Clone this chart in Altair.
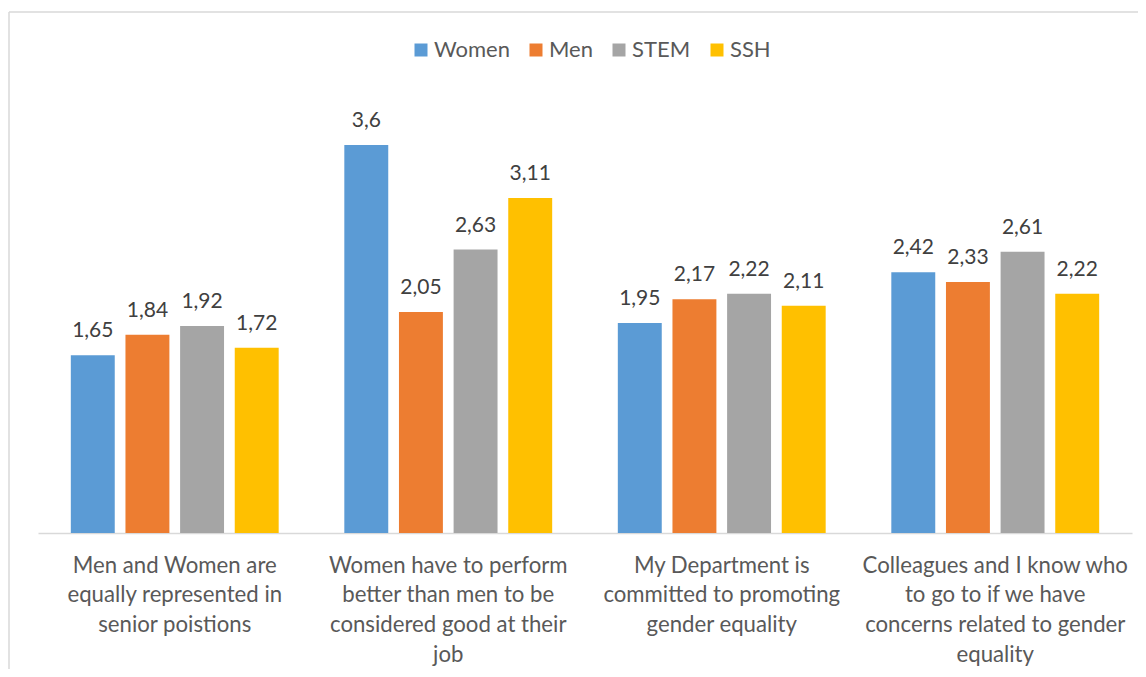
import altair as alt
import pandas as pd

categories = [
    "Men and Women are\nequally represented in\nsenior poistions",
    "Women have to perform\nbetter than men to be\nconsidered good at their\njob",
    "My Department is\ncommitted to promoting\ngender equality",
    "Colleagues and I know who\nto go to if we have\nconcerns related to gender\nequality",
]
series = ["Women", "Men", "STEM", "SSH"]
colors = ["#5B9BD5", "#ED7D31", "#A5A5A5", "#FFC000"]
women = [1.65, 3.6, 1.95, 2.42]
men = [1.84, 2.05, 2.17, 2.33]
stem = [1.92, 2.63, 2.22, 2.61]
ssh = [1.72, 3.11, 2.11, 2.22]

rows = []
for s, vals in zip(series, [women, men, stem, ssh]):
    for c, v in zip(categories, vals):
        rows.append({"category": c, "series": s, "value": v,
                     "label": str(v).replace(".", ",")})
df = pd.DataFrame(rows)

W, H = 1094, 431
FONT = "Lato"

x = alt.X("category:N", sort=categories,
          scale=alt.Scale(paddingInner=0.24, paddingOuter=0.12),
          axis=alt.Axis(title=None, labelAngle=0, ticks=False,
                        labelExpr="split(datum.label, '\\n')",
                        labelFontSize=22.2, labelLineHeight=29.7,
                        labelColor="#595959", labelFont=FONT,
                        labelPadding=21, labelLimit=0,
                        domainColor="#D9D9D9", domainWidth=1.5))
xo = alt.XOffset("series:N", sort=series,
                 scale=alt.Scale(paddingInner=0.196, paddingOuter=0))
y = alt.Y("value:Q", scale=alt.Scale(domain=[0, 4]), axis=None)

bars = alt.Chart(df).mark_bar().encode(
    x=x, xOffset=xo, y=y,
    color=alt.Color("series:N", sort=series,
                    scale=alt.Scale(domain=series, range=colors),
                    legend=alt.Legend(title=None, orient="none",
                                      direction="horizontal",
                                      legendX=372, legendY=-63,
                                      symbolType="square", symbolSize=169,
                                      symbolStrokeWidth=0,
                                      labelFontSize=22, labelColor="#595959",
                                      labelFont=FONT, columnPadding=15,
                                      labelOffset=2)),
)

labels = alt.Chart(df).mark_text(
    baseline="alphabetic", dy=-18, fontSize=21, font=FONT, color="#404040"
).encode(x=x, xOffset=xo, y=y, text="label:N")

frame_left = alt.Chart(alt.Data(values=[{"a": 1}])).mark_rule(
    color="#D9D9D9", strokeWidth=1.5
).encode(x=alt.value(-29), y=alt.value(-90), y2=alt.value(H + 140))

frame_top = alt.Chart(alt.Data(values=[{"a": 1}])).mark_rule(
    color="#D9D9D9", strokeWidth=1.5
).encode(x=alt.value(-29), x2=alt.value(W + 10), y=alt.value(-90))

chart = alt.layer(frame_left, frame_top, bars, labels).properties(
    width=W, height=H,
    autosize=alt.AutoSizeParams(type="none"),
    padding={"left": 30, "top": 94, "right": 6, "bottom": 136},
).configure(font=FONT, view=alt.ViewConfig(strokeWidth=0, stroke="transparent"))

chart.save("out.html", embed_options={"renderer": "svg", "actions": False})
